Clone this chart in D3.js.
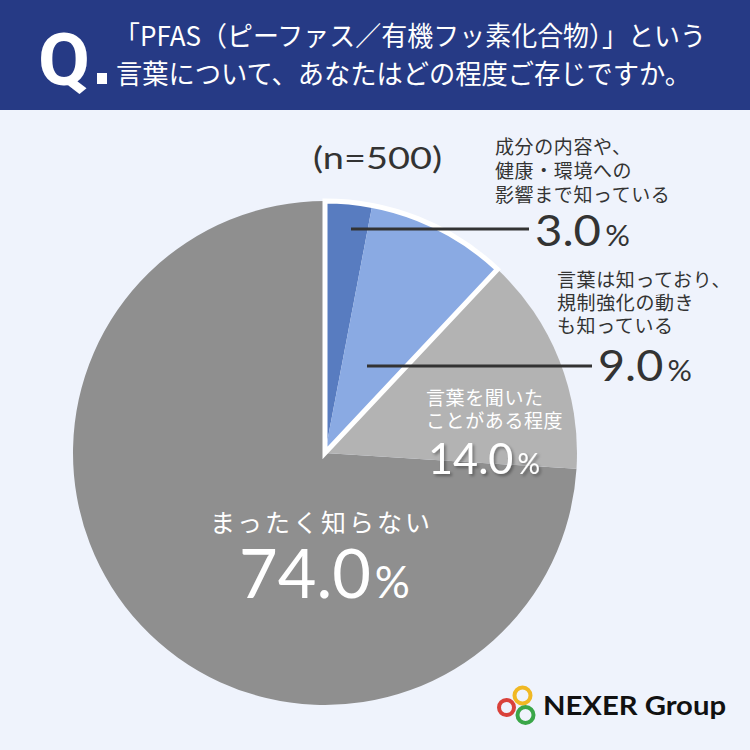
<!DOCTYPE html>
<html><head><meta charset="utf-8">
<script src="https://cdn.jsdelivr.net/npm/d3@7"></script>
<style>body{margin:0;background:#eff3fc;} svg{display:block;}</style>
</head><body>
<svg id="c" width="750" height="750"></svg>
<script>
const categories = ["成分の内容や、健康・環境への影響まで知っている","言葉は知っており、規制強化の動きも知っている","言葉を聞いたことがある程度","まったく知らない"];
const values = [3.0, 9.0, 14.0, 74.0];
const colors = ["#587cc0","#8aaae3","#b3b3b3","#8f8f8f"];
const labelLines = [["成分の内容や、","健康・環境への","影響まで知っている"],["言葉は知っており、","規制強化の動き","も知っている"],["言葉を聞いた","ことがある程度"],["まったく知らない"]];
const sampleLabel = "(n=500)";
const titleLines = ["「PFAS（ピーファス／有機フッ素化合物）」という","言葉について、あなたはどの程度ご存じですか。"];

const svg = d3.select("#c");
const JP = "'Noto Sans CJK JP','Noto Sans',sans-serif";
const NUM = "Lato,'Noto Sans',sans-serif";

svg.append("rect").attr("width",750).attr("height",750).attr("fill","#eff3fc");
// header
svg.append("rect").attr("width",750).attr("height",110).attr("fill","#263a85");
svg.append("text").attr("x",38).attr("y",85).attr("fill","#fff")
  .attr("font-family","Roboto,'Noto Sans',sans-serif").attr("font-weight",700).attr("font-size",72)
  .attr("textLength",52).attr("lengthAdjust","spacingAndGlyphs").text("Q");
svg.append("rect").attr("x",97).attr("y",73).attr("width",10).attr("height",11).attr("fill","#fff");
svg.append("text").attr("x",114).attr("y",46).attr("fill","#fff").attr("font-family",JP).attr("font-size",27)
  .attr("textLength",592).attr("lengthAdjust","spacingAndGlyphs").text(titleLines[0]);
svg.append("text").attr("x",116).attr("y",84).attr("fill","#fff").attr("font-family",JP).attr("font-size",27)
  .attr("textLength",575).attr("lengthAdjust","spacingAndGlyphs").text(titleLines[1]);

// pie
const cx = 325, cy = 453, R = 252;
const g = svg.append("g").attr("transform",`translate(${cx},${cy})`);
const pie = d3.pie().sort(null).value(d=>d);
const arcs = pie(values);
const arc = d3.arc().innerRadius(0).outerRadius(R);
const order = [3,2,0,1];
order.forEach(i=>{
  g.append("path").attr("d",arc(arcs[i])).attr("fill",colors[i]);
});
// white outline around the two blue slices
g.append("path").attr("d",arc({startAngle:arcs[0].startAngle,endAngle:arcs[1].endAngle}))
  .attr("fill","none").attr("stroke","#fff").attr("stroke-width",5).attr("stroke-linejoin","miter");

// n label
svg.append("text").attr("x",313).attr("y",169).attr("fill","#333").attr("font-family",NUM)
  .attr("font-size",30).attr("textLength",129).attr("lengthAdjust","spacingAndGlyphs").text(sampleLabel);

function pct(x,y,v,size,psize,fill,len){
  const t = svg.append("text").attr("x",x).attr("y",y).attr("fill",fill).attr("font-family",NUM)
    .attr("textLength",len).attr("lengthAdjust","spacingAndGlyphs");
  t.append("tspan").attr("font-size",size).text(v.toFixed(1));
  t.append("tspan").attr("font-size",psize).attr("dx",4).text("%");
  return t;
}
function lines(x,y,arr,size,lh,fill){
  arr.forEach((s,k)=>svg.append("text").attr("x",x).attr("y",y+k*lh).attr("fill",fill).attr("font-family",JP)
    .attr("font-size",size).attr("letter-spacing",0.6).text(s));
}

// slice 0
svg.append("line").attr("x1",351).attr("x2",529).attr("y1",229).attr("y2",229).attr("stroke","#333").attr("stroke-width",3);
lines(495,154,labelLines[0],19,24,"#333");
pct(535,246,values[0],43,28,"#333",95);
// slice 1
svg.append("line").attr("x1",367).attr("x2",592).attr("y1",366).attr("y2",366).attr("stroke","#333").attr("stroke-width",3);
lines(557,287,labelLines[1],19,23,"#333");
pct(598,381,values[1],43,28,"#333",94);
// slice 2
const defs = svg.append("defs");
defs.append("filter").attr("id","sh").attr("x","-10%").attr("y","-10%").attr("width","130%").attr("height","140%")
  .append("feDropShadow").attr("dx",2).attr("dy",2).attr("stdDeviation",1.5).attr("flood-color","#000").attr("flood-opacity",0.35);
lines(426,405,labelLines[2],19,23,"#fff");
pct(428,474,values[2],43,28,"#fff",112).attr("filter","url(#sh)");
// slice 3
svg.append("text").attr("x",210).attr("y",532).attr("fill","#fff").attr("font-family",JP).attr("font-size",25)
  .attr("textLength",220).attr("lengthAdjust","spacing").text(labelLines[3][0]);
pct(239,598,values[3],67,44,"#fff",171);

// logo
const lg = svg.append("g");
[["#d9413a",506.5,707.5,7.5],["#f0b824",522.5,695.5,8],["#3aa648",525.5,715,8]].forEach(c=>{
  lg.append("circle").attr("cx",c[1]).attr("cy",c[2]).attr("r",c[3]).attr("fill","none").attr("stroke",c[0]).attr("stroke-width",4);
});
svg.append("text").attr("x",543).attr("y",715).attr("fill","#111").attr("font-family",NUM).attr("font-weight",700)
  .attr("font-size",27).attr("textLength",183).attr("lengthAdjust","spacingAndGlyphs").text("NEXER Group");
</script>
</body></html>
